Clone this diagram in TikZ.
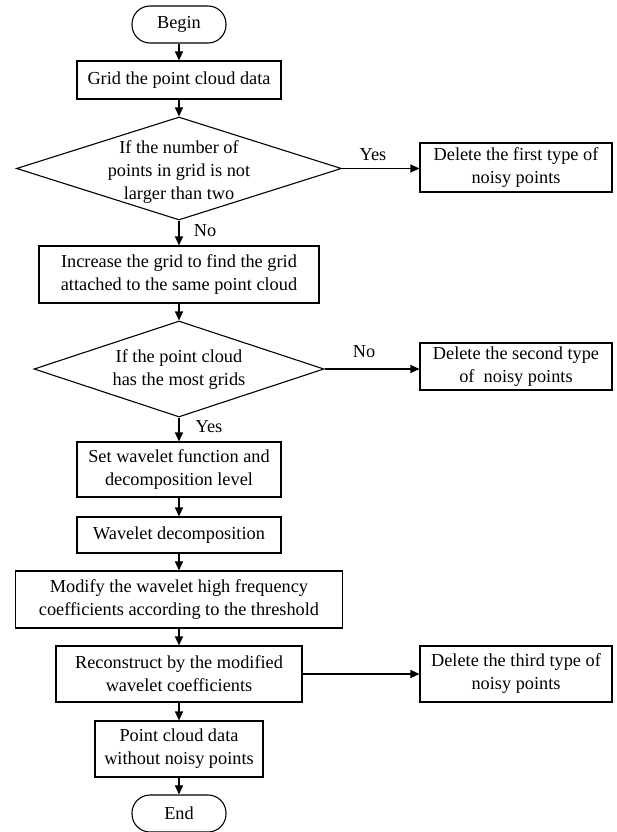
\documentclass[tikz,border=0pt]{standalone}
\usepackage{amsmath,amssymb}
\usepackage{fontspec}
\setmainfont{Liberation Serif}
\usetikzlibrary{arrows,arrows.meta,shapes.geometric}

\begin{document}
\begin{tikzpicture}[x=1pt,y=-1pt,
  every node/.style={font=\fontsize{18.3}{23}\selectfont},
  box/.style={draw,line width=1.1pt,inner sep=0pt,align=center},
  term/.style={box,rounded corners=18pt,minimum width=94pt,minimum height=37pt},
  dec/.style={draw,diamond,line width=1.1pt,inner sep=0pt},
  flow/.style={-{Triangle[length=9pt,width=8pt]},line width=1.1pt}]
\useasboundingbox (0,0) rectangle (617,832);

\node[term] (begin) at (179,24.5) {Begin};
\node[box,minimum width=204pt,minimum height=38pt] (grid) at (179,80) {Grid the point cloud data};

\node[dec,minimum width=325pt,minimum height=103pt] (dec1) at (179,168.5) {};
\node[align=center] (q1) at (179,172) {If the number of\\points in grid is not\\larger than two};
\node[box,minimum width=192pt,minimum height=49pt] (del1) at (516,167.5) {Delete the first type of\\noisy points};

\node[box,minimum width=280pt,minimum height=57pt] (inc) at (179,274.5) {Increase the grid to find the grid\\attached to the same point cloud};

\node[dec,minimum width=290pt,minimum height=96pt] (dec2) at (179,369) {};
\node[align=center] (q2) at (179,370) {If the point cloud\\has the most grids};
\node[box,minimum width=192pt,minimum height=47pt] (del2) at (516,366.5) {Delete the second type\\of\ \ noisy points};

\node[box,minimum width=204pt,minimum height=55pt] (set) at (179,469.5) {Set wavelet function and\\decomposition level};
\node[box,minimum width=204pt,minimum height=36pt] (wav) at (179,535) {Wavelet decomposition};
\node[box,minimum width=327pt,minimum height=57pt] (mod) at (179,599.5) {Modify the wavelet high frequency\\coefficients according to the threshold};
\node[box,minimum width=246pt,minimum height=56pt] (rec) at (179,674) {Reconstruct by the modified\\wavelet coefficients};
\node[box,minimum width=192pt,minimum height=56pt] (del3) at (516,674) {Delete the third type of\\noisy points};
\node[box,minimum width=168pt,minimum height=56pt] (pcd) at (179,749) {Point cloud data\\without noisy points};
\node[term] (end) at (179,813.5) {End};

% branch labels
\node (yes1) at (373,155) {Yes};
\node (no1) at (205,231) {No};
\node (no2) at (364,352) {No};
\node (yes2) at (209,427) {Yes};

\draw[flow] (begin) -- (grid);
\draw[flow] (grid) -- (dec1);
\draw[flow] (dec1.east) -- (dec1.east -| del1.west);
\draw[flow] (dec1) -- (inc);
\draw[flow] (inc) -- (dec2);
\draw[flow] (dec2.east) -- (dec2.east -| del2.west);
\draw[flow] (dec2) -- (set);
\draw[flow] (set) -- (wav);
\draw[flow] (wav) -- (mod);
\draw[flow] (mod) -- (rec);
\draw[flow] (rec) -- (del3);
\draw[flow] (rec) -- (pcd);
\draw[flow] (pcd) -- (end);

\end{tikzpicture}
\end{document}
